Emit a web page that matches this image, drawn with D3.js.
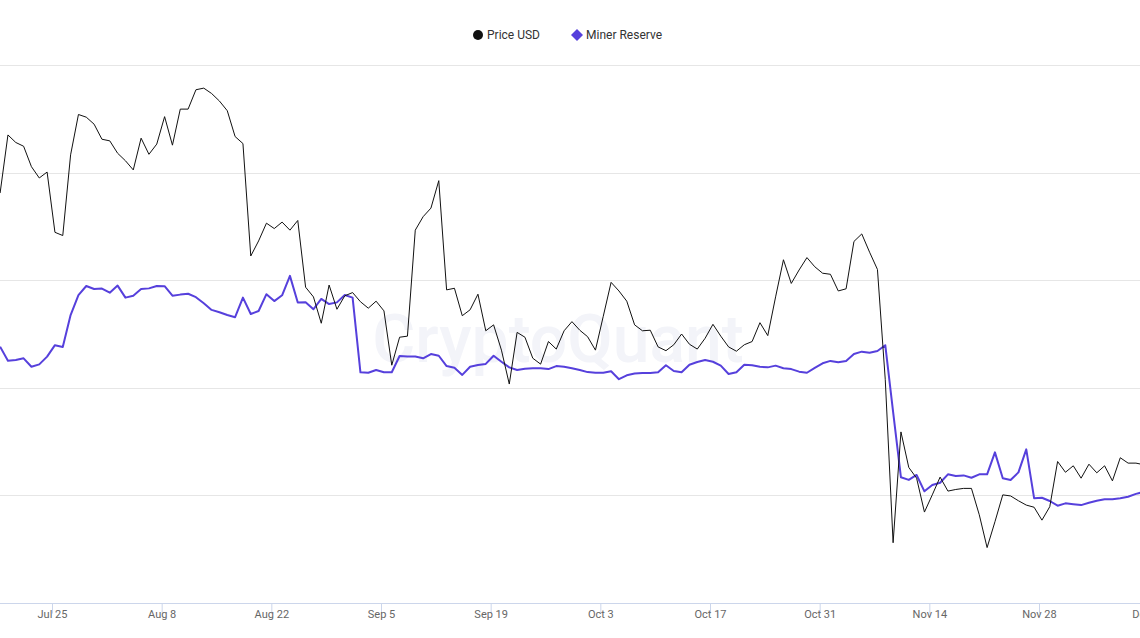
<!DOCTYPE html>
<html>
<head>
<meta charset="utf-8">
<script src="https://cdn.jsdelivr.net/npm/d3@7"></script>
<style>
  body { margin: 0; background: #fff; }
  svg { display: block; font-family: Roboto, "Noto Sans", sans-serif; }
</style>
</head>
<body>
<svg width="1140" height="638"></svg>
<script>
// daily closes, Jul 18 .. Dec 11 (UTC)
var startDay = "2022-07-18", endDay = "2022-12-12";

var priceUsd = [
  22620, 23700, 23560, 23490, 23110, 22900, 23010, 21890, 21830, 23330,
  24080, 24030, 23900, 23620, 23590, 23360, 23220, 23050, 23640, 23340,
  23530, 24040, 23510, 24180, 24180, 24540, 24570, 24470, 24330, 24150,
  23670, 23540, 21450, 21730, 22060, 21960, 22080, 21930, 22110, 20870,
  20690, 20200, 20910, 20460, 20710, 20770, 20600, 20480, 20610, 20430,
  19420, 19940, 19960, 21930, 22180, 22340, 22850, 20820, 20850, 20340,
  20450, 20740, 20060, 20170, 19700, 19070, 20030, 19940, 19550, 19440,
  19860, 19720, 20060, 20230, 20070, 19950, 19700, 20330, 20960, 20800,
  20610, 20170, 20060, 20070, 19760, 19690, 19800, 20000, 19810, 19720,
  19920, 20180, 19960, 19760, 19680, 19800, 19860, 20210, 19970, 20690,
  21380, 20940, 21190, 21420, 21250, 21130, 21110, 20800, 20840, 21720,
  21860, 21520, 21200, 19150, 16120, 18180, 17520, 17320, 16690, 17010,
  17340, 17080, 17110, 17130, 17130, 16640, 16030, 16510, 17010, 16990,
  16900, 16820, 16780, 16540, 16790, 17630, 17430, 17550, 17320, 17580,
  17420, 17550, 17270, 17700, 17600, 17600, 17570
];

var minerReserve = [
  1831910, 1831260, 1831290, 1831370, 1830980, 1831090, 1831450, 1831980, 1831900, 1833380,
  1834310, 1834730, 1834590, 1834610, 1834420, 1834750, 1834190, 1834280, 1834590, 1834620,
  1834730, 1834720, 1834280, 1834330, 1834370, 1834210, 1833930, 1833620, 1833510, 1833380,
  1833280, 1834190, 1833430, 1833570, 1834350, 1834030, 1834300, 1835200, 1833960, 1833970,
  1833650, 1834130, 1833890, 1833970, 1834310, 1834190, 1830720, 1830700, 1830830, 1830720,
  1830720, 1831480, 1831450, 1831450, 1831370, 1831570, 1831490, 1831010, 1830930, 1830600,
  1830980, 1831060, 1831110, 1831490, 1831210, 1830950, 1830830, 1830890, 1830910, 1830910,
  1830870, 1831010, 1830980, 1830910, 1830830, 1830730, 1830700, 1830700, 1830770, 1830400,
  1830580, 1830660, 1830690, 1830690, 1830720, 1831050, 1830780, 1830720, 1831070, 1831200,
  1831290, 1831210, 1831030, 1830640, 1830720, 1831070, 1831050, 1830980, 1830950, 1831030,
  1830910, 1830870, 1830750, 1830700, 1830930, 1831140, 1831250, 1831190, 1831250, 1831570,
  1831680, 1831630, 1831710, 1831980, 1828880, 1825840, 1825720, 1825950, 1825190, 1825480,
  1825590, 1825980, 1825900, 1825930, 1825820, 1825980, 1825980, 1827000, 1825800, 1825720,
  1826070, 1827140, 1824870, 1824890, 1824740, 1824520, 1824630, 1824590, 1824550, 1824660,
  1824750, 1824820, 1824820, 1824870, 1824940, 1825070, 1825160
];

// x ticks every two weeks (labels in KST, UTC+9)
var tickDays = ["2022-07-25", "2022-08-08", "2022-08-22", "2022-09-05", "2022-09-19",
  "2022-10-03", "2022-10-17", "2022-10-31", "2022-11-14", "2022-11-28", "2022-12-12"];

var priceGrid = [17000, 19000, 21000, 23000, 25000];

var legendNames = ["Price USD", "Miner Reserve"];

var svg = d3.select("svg"),
    width = +svg.attr("width"),
    height = +svg.attr("height"),
    margin = {top: 65, bottom: 35};

var kst = 9 * 3600e3;
var parseDay = d3.utcParse("%Y-%m-%d");
var days = d3.utcDay.range(parseDay(startDay), parseDay(endDay));
var ticks = tickDays.map(function(d) { return new Date(+parseDay(d) - kst); });

var x = d3.scaleUtc()
    .domain([ticks[0], ticks[9]])
    .range([52, 1039]);

var yPrice = d3.scaleLinear().domain([15000, 25000]).range([height - margin.bottom, margin.top]);
var yReserve = d3.scaleLinear().domain([1820000, 1845000]).range([height - margin.bottom, margin.top]);

var purple = "#5640dc";

svg.append("defs").append("clipPath")
   .attr("id", "clip")
   .append("rect")
   .attr("x", 0).attr("y", 0)
   .attr("width", width).attr("height", height);

// grid
svg.append("g")
   .attr("class", "grid")
   .selectAll("line")
   .data(priceGrid)
   .enter().append("line")
   .attr("x1", 0).attr("x2", width)
   .attr("y1", function(d) { return Math.round(yPrice(d)) + 0.5; })
   .attr("y2", function(d) { return Math.round(yPrice(d)) + 0.5; })
   .attr("stroke", "#e6e6e6");

// watermark
svg.append("text")
   .attr("x", 558).attr("y", 362)
   .attr("text-anchor", "middle")
   .attr("font-size", 66)
   .attr("font-weight", 500)
   .attr("fill", "#f3f4f9")
   .text("CryptoQuant");

// x axis
var xAxis = d3.axisBottom(x)
    .tickValues(ticks)
    .tickSize(10)
    .tickFormat(function(d) { return d3.utcFormat("%b %-d")(new Date(+d + kst)); });

var gx = svg.append("g")
   .attr("class", "axis axis--x")
   .attr("transform", "translate(0," + (Math.round(yPrice(15000)) + 0.5) + ")")
   .call(xAxis);
gx.select(".domain").remove();
gx.append("line").attr("x1", 0).attr("x2", width).attr("stroke", "#ccd6eb");
gx.selectAll(".tick line").attr("stroke", "#ccd6eb");
gx.selectAll(".tick text")
  .attr("fill", "#666")
  .attr("font-size", 11)
  .attr("font-family", "Roboto, sans-serif")
  .attr("dy", "0.15em");

var plot = svg.append("g").attr("clip-path", "url(#clip)");

var priceLine = d3.line()
    .x(function(d, i) { return x(days[i]); })
    .y(function(d) { return yPrice(d); });

var reserveLine = d3.line()
    .x(function(d, i) { return x(days[i]); })
    .y(function(d) { return yReserve(d); });

plot.append("path")
    .datum(minerReserve)
    .attr("d", reserveLine)
    .attr("fill", "none")
    .attr("stroke", purple)
    .attr("stroke-width", 2)
    .attr("stroke-linejoin", "round");

plot.append("path")
    .datum(priceUsd)
    .attr("d", priceLine)
    .attr("fill", "none")
    .attr("stroke", "#111")
    .attr("stroke-width", 1)
    .attr("stroke-linejoin", "round");

// legend
var legend = svg.append("g").attr("class", "legend");
legend.append("circle").attr("cx", 478).attr("cy", 35).attr("r", 5).attr("fill", "#111");
legend.append("text").attr("x", 487).attr("y", 39)
      .attr("font-size", 12).attr("fill", "#333").text(legendNames[0]);
legend.append("path")
      .attr("d", "M577,29 L583,35 L577,41 L571,35 Z")
      .attr("fill", purple);
legend.append("text").attr("x", 586).attr("y", 39)
      .attr("font-size", 12).attr("fill", "#333").text(legendNames[1]);
</script>
</body>
</html>
